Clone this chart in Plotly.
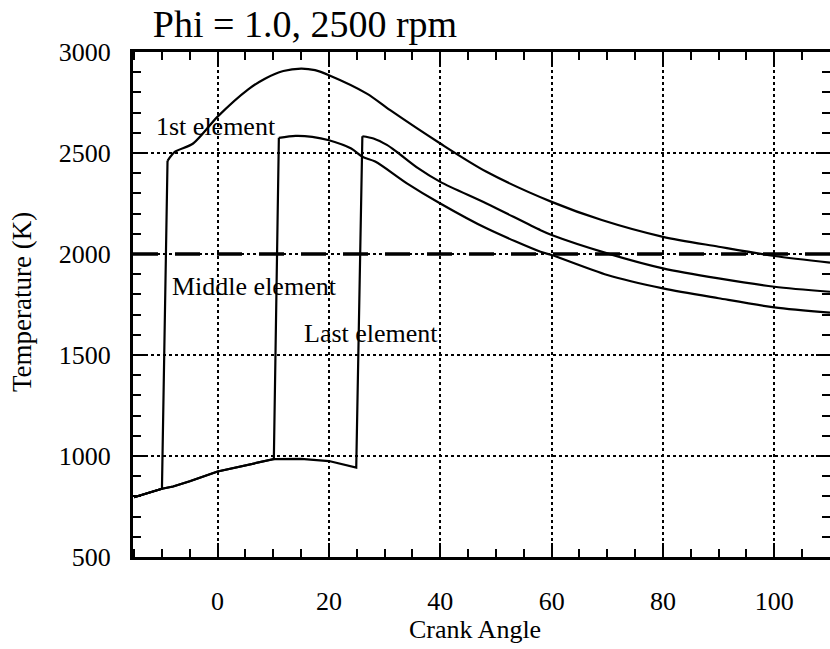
import plotly.graph_objects as go

# ---- data ----
unburned_angle = [-15, -10, -8, -5, 0, 5, 10.1, 15, 20, 24.9]
unburned_temp = [796, 838, 849, 875, 923, 955, 985, 986, 975, 943]

first_ignition = -10
middle_ignition = 10.1
last_ignition = 24.9

first_burn_angle = [-9, -7.7, -4.4, 0, 5.5, 8.5, 11.8, 15, 17.5, 20, 26.8, 31, 40, 48.3, 60, 69, 80, 90, 100, 110]
first_burn_temp = [2461, 2505, 2547, 2680, 2815, 2868, 2906, 2918, 2910, 2885, 2794, 2712, 2547, 2407, 2258, 2168, 2085, 2036, 1990, 1957]

middle_burn_angle = [11, 14, 17, 20, 24, 26, 28.3, 34, 40, 48.3, 58, 60, 70, 80, 90, 100, 110]
middle_burn_temp = [2575, 2585, 2580, 2563, 2522, 2481, 2458, 2350, 2250, 2127, 2011, 1995, 1896, 1830, 1781, 1736, 1710]

last_burn_angle = [26, 28, 30.4, 32.2, 36, 40, 48.3, 58, 60, 70, 80, 90, 100, 110]
last_burn_temp = [2583, 2572, 2540, 2505, 2425, 2357, 2250, 2118, 2094, 2003, 1929, 1879, 1838, 1813]

threshold_temp = 2000

label_text = ["1st element", "Middle element", "Last element"]
label_angle = [-11.5, -8.5, 15.1]
label_temp = [2633, 1839, 1604]

title_text = "Phi = 1.0, 2500 rpm"
x_title = "Crank Angle"
y_title = "Temperature (K)"

FONT = "Liberation Serif"
LW = 2.2

fig = go.Figure()
for ign, ba, bt, name in [
    (first_ignition, first_burn_angle, first_burn_temp, "1st element"),
    (middle_ignition, middle_burn_angle, middle_burn_temp, "Middle element"),
    (last_ignition, last_burn_angle, last_burn_temp, "Last element"),
]:
    # compression (unburned) part and the ignition jump: straight segments
    xs = [a for a in unburned_angle if a <= ign] + ba[:1]
    ys = [t for a, t in zip(unburned_angle, unburned_temp) if a <= ign] + bt[:1]
    fig.add_trace(go.Scatter(x=xs, y=ys, mode="lines", name=name,
                             line=dict(color="black", width=LW), showlegend=False))
    # burned part: smooth curve
    fig.add_trace(go.Scatter(x=ba, y=bt, mode="lines", name=name,
                             line=dict(color="black", width=LW, shape="spline", smoothing=0.8),
                             showlegend=False))

fig.add_shape(type="line", xref="paper", x0=0, x1=1, yref="y",
              y0=threshold_temp, y1=threshold_temp,
              line=dict(color="black", width=3.5, dash="25px,17px"))

for t, a, v in zip(label_text, label_angle, label_temp):
    fig.add_annotation(x=a, y=v, text=t, showarrow=False, xanchor="left",
                       yanchor="middle", font=dict(family=FONT, size=26, color="black"))

# axis titles
fig.add_annotation(xref="paper", yref="paper", x=(475 - 133) / 697, y=(557 - 629) / 505,
                   text=x_title, showarrow=False, xanchor="center", yanchor="middle",
                   font=dict(family=FONT, size=26, color="black"))
fig.add_annotation(xref="paper", yref="paper", x=(22 - 133) / 697, y=(557 - 302) / 505,
                   text=y_title, showarrow=False, xanchor="center", yanchor="middle",
                   textangle=-90, font=dict(family=FONT, size=27, color="black"))

axis_common = dict(
    showline=True, linecolor="black", linewidth=3, mirror="ticks",
    ticks="inside", ticklen=14, tickwidth=2, tickcolor="black",
    showgrid=True, gridcolor="black", gridwidth=1.5, griddash="dot",
    zeroline=False, tickfont=dict(family=FONT, size=26, color="black"),
    automargin=False,
)

fig.update_layout(
    width=830, height=649,
    margin=dict(l=133, r=0, t=52, b=92),
    paper_bgcolor="white", plot_bgcolor="white",
    title=dict(text=title_text, x=305 / 830, xanchor="center", xref="container",
               y=1 - 24 / 649, yanchor="middle", yref="container",
               font=dict(family=FONT, size=38, color="black")),
    xaxis=dict(range=[-15.2, 110.0], tick0=0, dtick=20,
               minor=dict(ticks="inside", dtick=5, tick0=0, ticklen=8, tickwidth=2,
                          tickcolor="black", showgrid=False),
               ticklabelstandoff=19,
               **axis_common),
    yaxis=dict(range=[500, 3000], tick0=500, dtick=500,
               minor=dict(ticks="inside", dtick=100, tick0=500, ticklen=8, tickwidth=2,
                          tickcolor="black", showgrid=False),
               ticklabelstandoff=14,
               **axis_common),
)

fig.write_html("out.html")
